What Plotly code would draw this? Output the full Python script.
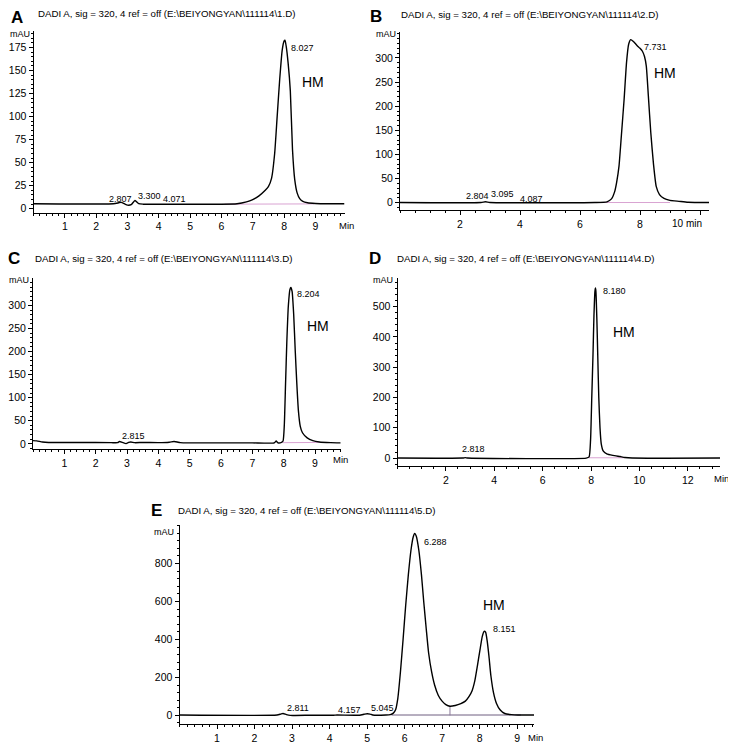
import plotly.graph_objects as go

# ---------------- data ----------------
panel_letters = ["A", "B", "C", "D", "E"]
file_ids = ["1", "2", "3", "4", "5"]

# Panel A
a_time = [0, 2.55, 2.72, 2.8, 2.9, 3.0, 3.12, 3.24, 3.36, 3.5, 4.0, 5.0, 6.0, 6.5, 6.8, 7.0, 7.2, 7.4, 7.5,
          7.6, 7.7, 7.78, 7.86, 7.94, 8.0, 8.03, 8.07, 8.13, 8.2, 8.27, 8.34, 8.42, 8.5, 8.6, 8.75, 9.0, 9.4, 9.93]
a_mau = [5.5, 5.5, 6.5, 7, 5.5, 4, 4.5, 9, 5.5, 5, 5, 5, 5, 5.5, 7.5, 10, 14, 20, 24,
         33, 60, 100, 140, 172, 182, 183, 176, 158, 128, 64, 32, 17, 11, 8, 6.5, 5.8, 5.5, 5.5]
a_base_t = [6.1, 8.95]
a_base_v = [5, 5.3]
a_rt = ["2.807", "3.300", "4.071", "8.027"]
a_xticks = [1, 2, 3, 4, 5, 6, 7, 8, 9]
a_yticks = [0, 25, 50, 75, 100, 125, 150, 175]

# Panel B
b_time = [0, 2.7, 2.85, 3.0, 6.5, 6.9, 7.05, 7.15, 7.22, 7.3, 7.38, 7.47, 7.55, 7.62, 7.69, 7.78, 7.9, 8.0,
          8.08, 8.15, 8.21, 8.28, 8.36, 8.45, 8.54, 8.65, 8.8, 9.0, 9.3, 9.6, 10.3]
b_mau = [0.5, 0.5, 2, 0.5, 0.5, 2, 8, 22, 42, 76, 140, 214, 290, 328, 338, 334, 326, 320,
         314, 303, 283, 220, 145, 80, 34, 17, 9, 5, 3, 1, 0.5]
b_base_t = [6.1, 9.0]
b_base_v = [0.5, 0.5]
b_rt = ["2.804", "3.095", "4.087", "7.731"]
b_xticks = [2, 4, 6, 8, 10]
b_xticktext = ["2", "4", "6", "8", ""]
b_yticks = [0, 50, 100, 150, 200, 250, 300]

# Panel C
c_time = [0, 0.12, 0.3, 0.5, 1.5, 2.5, 2.7, 2.76, 2.85, 2.97, 3.05, 3.12, 3.25, 3.5, 4.0, 4.35, 4.5, 4.6,
          4.7, 5.0, 6.0, 7.0, 7.7, 7.76, 7.82, 7.93, 7.98, 8.02, 8.06, 8.1, 8.15, 8.2, 8.23, 8.27, 8.32,
          8.37, 8.42, 8.47, 8.53, 8.6, 8.75, 8.93, 9.14, 9.5, 9.82]
c_mau = [7, 6.5, 4, 3, 3, 2.5, 2.5, 5, 3, 0.5, 3, 4, 2.5, 3, 2.5, 3.5, 5, 4,
         2.5, 2, 2, 2, 2, 6, 2, 3, 6, 40, 130, 220, 300, 335, 339, 330, 280,
         200, 130, 72, 38, 24, 13, 7, 4, 2.5, 2]
c_base_t = [7.97, 9.15]
c_base_v = [2.5, 3]
c_rt = ["2.815", "8.204"]
c_xticks = [1, 2, 3, 4, 5, 6, 7, 8, 9]
c_yticks = [0, 50, 100, 150, 200, 250, 300]

# Panel D
d_time = [0, 2.7, 2.8, 2.9, 7.8, 7.92, 7.98, 8.03, 8.08, 8.12, 8.16, 8.18, 8.2, 8.24, 8.28, 8.32, 8.37,
          8.42, 8.5, 8.65, 8.9, 9.2, 9.4, 9.7, 13.33]
d_mau = [0, 0, 1.5, 0, 0, 4, 60, 200, 340, 470, 550, 562, 552, 460, 330, 200, 100,
         48, 24, 14, 9, 5, 2, 0, 0]
d_base_t = [7.9, 9.38]
d_base_v = [1, 1]
d_rt = ["2.818", "8.180"]
d_xticks = [2, 4, 6, 8, 10, 12]
d_yticks = [0, 100, 200, 300, 400, 500]

# Panel E
e_time = [0, 2.6, 2.7, 2.76, 2.85, 2.95, 3.5, 4.1, 4.2, 4.8, 4.92, 5.0, 5.08, 5.15, 5.5, 5.62, 5.7, 5.76,
          5.82, 5.89, 5.96, 6.03, 6.1, 6.17, 6.23, 6.27, 6.31, 6.38, 6.45, 6.51, 6.58, 6.64, 6.72, 6.8,
          6.9, 7.0, 7.1, 7.21, 7.35, 7.5, 7.62, 7.72, 7.8, 7.87, 7.94, 8.01, 8.07, 8.12, 8.16, 8.2,
          8.25, 8.3, 8.37, 8.45, 8.55, 8.67, 8.85, 9.02, 9.45]
e_mau = [2, 2, 7, 10, 4, 0, 1, 1, 2, 1, 6, 9, 7, 2, 2, 4, 12, 30,
         90, 230, 400, 580, 740, 870, 940, 958, 945, 870, 740, 600, 450, 330, 230, 160,
         105, 75, 57, 48, 52, 62, 75, 100, 130, 180, 260, 345, 415, 443, 438, 395,
         310, 210, 120, 63, 28, 10, 4, 2, 2]
e_base_t = [5.65, 9.1]
e_base_v = [2, 2]
e_drop_t = [7.21, 7.21]
e_drop_v = [0, 48]
e_rt = ["2.811", "4.157", "5.045", "6.288", "8.151"]
e_xticks = [1, 2, 3, 4, 5, 6, 7, 8, 9]
e_yticks = [0, 200, 400, 600, 800]

compound = "HM"

# ---------------- layout helpers ----------------
# the page body has an 8px margin, so the figure starts at (8, 8) in the window
OFF = 8
W, H = 736 - OFF, 750 - OFF
FONT = "Liberation Sans, Arial, sans-serif"


def fx(p):
    return (p - OFF) / W


def fy(p):
    return 1 - (p - OFF) / H


fig = go.Figure()

# geometry per panel (window px): (x_left, x_right, y_top, y_bottom, xrange, yrange, minor_x, minor_y)
geom = {
    "A": (33.5, 344.5, 31, 213.3, [0, 9.93], [-4.3, 193], 0.2, 5),
    "B": (400, 709, 32, 210.7, [0, 10.3], [-15.3, 354], 0.5, 10),
    "C": (33, 340.7, 279, 450.5, [0, 9.82], [-11.9, 359], 0.2, 10),
    "D": (397.5, 720, 279, 467.3, [0, 13.33], [-26.4, 594], 0.5, 20),
    "E": (179.5, 534, 526, 726, [0, 9.45], [-45.7, 1005], 0.2, 40),
}
series = {
    "A": (a_time, a_mau, a_base_t, a_base_v, a_xticks, [str(v) for v in a_xticks], a_yticks),
    "B": (b_time, b_mau, b_base_t, b_base_v, b_xticks, b_xticktext, b_yticks),
    "C": (c_time, c_mau, c_base_t, c_base_v, c_xticks, [str(v) for v in c_xticks], c_yticks),
    "D": (d_time, d_mau, d_base_t, d_base_v, d_xticks, [str(v) for v in d_xticks], d_yticks),
    "E": (e_time, e_mau, e_base_t, e_base_v, e_xticks, [str(v) for v in e_xticks], e_yticks),
}

layout_axes = {}
for i, L in enumerate(panel_letters):
    n = "" if i == 0 else str(i + 1)
    xl, xr, yt, yb, xrng, yrng, mx, my = geom[L]
    t, v, bt, bv, xt, xtt, yt_vals = series[L]
    layout_axes["xaxis" + n] = dict(
        domain=[fx(xl), fx(xr)], range=xrng, anchor="y" + n,
        showline=True, linecolor="black", linewidth=1,
        ticks="outside", ticklen=4, tickwidth=1, tickcolor="black",
        tickvals=xt, ticktext=xtt,
        tickfont=dict(size=10.5, color="black", family=FONT),
        showgrid=False, zeroline=False, fixedrange=True,
        minor=dict(ticks="outside", ticklen=2, tickwidth=1, tickcolor="black",
                   tickmode="linear", tick0=0, dtick=mx, showgrid=False),
    )
    layout_axes["yaxis" + n] = dict(
        domain=[fy(yb), fy(yt)], range=yrng, anchor="x" + n,
        showline=True, linecolor="black", linewidth=1,
        ticks="outside", ticklen=4, tickwidth=1, tickcolor="black",
        tickvals=yt_vals, ticktext=[str(v) for v in yt_vals],
        tickfont=dict(size=10.5, color="black", family=FONT),
        showgrid=False, zeroline=False, fixedrange=True,
        minor=dict(ticks="outside", ticklen=2, tickwidth=1, tickcolor="black",
                   tickmode="linear", tick0=0, dtick=my, showgrid=False),
    )
    base_color = "#6e5e80" if L == "E" else "#d9a3d2"
    fig.add_trace(go.Scatter(x=bt, y=bv, mode="lines", xaxis="x" + n, yaxis="y" + n,
                             line=dict(color=base_color, width=1), hoverinfo="skip"))
    if L == "E":
        fig.add_trace(go.Scatter(x=e_drop_t, y=e_drop_v, mode="lines", xaxis="x" + n, yaxis="y" + n,
                                 line=dict(color="#8a7a9a", width=1), hoverinfo="skip"))
    fig.add_trace(go.Scatter(x=t, y=v, mode="lines", xaxis="x" + n, yaxis="y" + n,
                             line=dict(color="black", width=1.4, shape="spline", smoothing=0.5)))


def ann(text, px, py, size, anchor="left", bold=False):
    return dict(text=f"<b>{text}</b>" if bold else text, x=fx(px), y=fy(py),
                xref="paper", yref="paper", xanchor=anchor, yanchor="middle",
                showarrow=False, font=dict(size=size, color="black", family=FONT))


anns = []
letter_pos = {"A": (17, 18), "B": (376, 17), "C": (14, 259), "D": (375, 259), "E": (156, 512)}
title_pos = {"A": (36, 13.5), "B": (399, 15), "C": (33, 259), "D": (395, 259), "E": (176, 512)}
mau_pos = {"A": (32, 34), "B": (398, 34), "C": (31, 281), "D": (395, 281), "E": (176, 533)}
hm_pos = {"A": (300, 82), "B": (652, 73), "C": (305, 327), "D": (611, 333), "E": (481, 607)}
for L, fid in zip(panel_letters, file_ids):
    anns.append(ann(L, *letter_pos[L], 17, "center", bold=True))
    anns.append(ann("DADI A, sig = 320, 4 ref = off (E:\\BEIYONGYAN\\111114\\" + fid + ".D)",
                    *title_pos[L], 9.7, "left"))
    anns.append(ann("mAU", *mau_pos[L], 9, "right"))
    anns.append(ann(compound, *hm_pos[L], 14, "left"))

# axis unit labels
anns.append(ann("Min", 346, 226, 9.5, "center"))
anns.append(ann("10 min", 687, 224, 10, "center"))
anns.append(ann("Min", 340, 461, 9.5, "center"))
anns.append(ann("Min", 721, 480, 9.5, "center"))
anns.append(ann("Min", 535, 739, 9.5, "center"))

# retention-time labels
rt_pos = {
    "A": [(120, 200, "center"), (149, 197, "center"), (174, 200, "center"), (289, 48, "left")],
    "B": [(477, 197, "center"), (502, 195, "center"), (531, 199.5, "center"), (642, 47, "left")],
    "C": [(133, 437, "center"), (295, 295, "left")],
    "D": [(474, 450, "center"), (601, 292, "left")],
    "E": [(298, 710, "center"), (349.5, 712, "center"), (382.5, 710, "center"), (422, 543, "left"),
          (491, 631, "left")],
}
rts = {"A": a_rt, "B": b_rt, "C": c_rt, "D": d_rt, "E": e_rt}
for L in panel_letters:
    for label, (px, py, anc) in zip(rts[L], rt_pos[L]):
        anns.append(ann(label, px, py, 9, anc))

fig.update_layout(
    width=W, height=H, margin=dict(l=0, r=0, t=0, b=0),
    paper_bgcolor="white", plot_bgcolor="white", showlegend=False,
    font=dict(family=FONT, color="black"),
    annotations=anns, **layout_axes,
)

fig.write_html("out.html")
